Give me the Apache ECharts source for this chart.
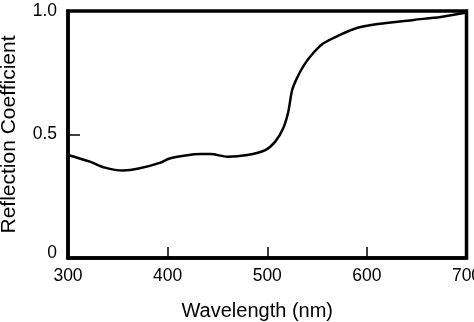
<!DOCTYPE html>
<html>
<head>
<meta charset="utf-8">
<script src="https://cdn.jsdelivr.net/npm/echarts@6/dist/echarts.min.js"></script>
<style>html,body{margin:0;padding:0;background:#fff;}#c{width:474px;height:322px;}</style>
</head>
<body>
<div id="c"></div>
<script>
var wavelengths = [300, 322, 337, 355, 372, 392, 402, 418, 433, 443, 460, 480, 498, 508, 516, 521, 525, 530, 536, 543, 556, 573, 590, 611, 647, 674, 700];
var reflection = [0.417, 0.390, 0.366, 0.354, 0.363, 0.385, 0.403, 0.415, 0.421, 0.421, 0.410, 0.417, 0.437, 0.471, 0.525, 0.590, 0.680, 0.730, 0.775, 0.815, 0.868, 0.903, 0.931, 0.947, 0.964, 0.976, 0.994];
var xTicks = [300, 400, 500, 600, 700];
var yTicks = [0, 0.5, 1.0];
var xTitle = 'Wavelength (nm)';
var yTitle = 'Reflection Coefficient';

var pts = wavelengths.map(function (w, i) { return [w, reflection[i]]; });
var font = '"Liberation Sans", Arial, sans-serif';
var chart = echarts.init(document.getElementById('c'), null, {renderer: 'canvas'});
chart.setOption({
  animation: false,
  backgroundColor: '#fff',
  grid: {left: 68, right: 7.5, top: 11, bottom: 64, containLabel: false, outerBoundsMode: 'none',
    show: true, borderColor: '#000', borderWidth: 3.5, backgroundColor: 'transparent'},
  xAxis: {
    type: 'value', min: xTicks[0], max: xTicks[xTicks.length - 1], interval: 100,
    name: xTitle, nameLocation: 'middle', nameGap: 43,
    nameTextStyle: {fontFamily: font, fontSize: 20, color: '#000', padding: [0, 20, 0, 0]},
    axisLine: {show: true, lineStyle: {color: '#000', width: 3.5}},
    axisTick: {show: true, inside: true, length: 11, lineStyle: {color: '#000', width: 1.5}},
    axisLabel: {fontFamily: font, fontSize: 17.5, color: '#000', margin: 9, hideOverlap: false,
      formatter: function (v) { return xTicks.indexOf(v) >= 0 ? String(v) : ''; }},
    splitLine: {show: false}
  },
  yAxis: {
    type: 'value', min: 0, max: 1, interval: 0.5,
    name: yTitle, nameLocation: 'middle', nameGap: 48,
    nameTextStyle: {fontFamily: font, fontSize: 21, color: '#000', padding: [6, 0, 0, 0]},
    axisLine: {show: true, lineStyle: {color: '#000', width: 3.5}},
    axisTick: {show: true, inside: true, length: 12, lineStyle: {color: '#000', width: 1.5}},
    axisLabel: {fontFamily: font, fontSize: 17.5, color: '#000', margin: 11, hideOverlap: false,
      formatter: function (v) {
        if (v === 0) return '{z|0}';
        return v.toFixed(1);
      },
      rich: {z: {fontFamily: font, fontSize: 17.5, color: '#000', padding: [0, 0, 10, 0]}}},
    splitLine: {show: false}
  },
  series: [{
    type: 'line', data: pts, smooth: 0.3, symbol: 'none',
    lineStyle: {color: '#000', width: 2.5}
  }]
});
</script>
</body>
</html>
